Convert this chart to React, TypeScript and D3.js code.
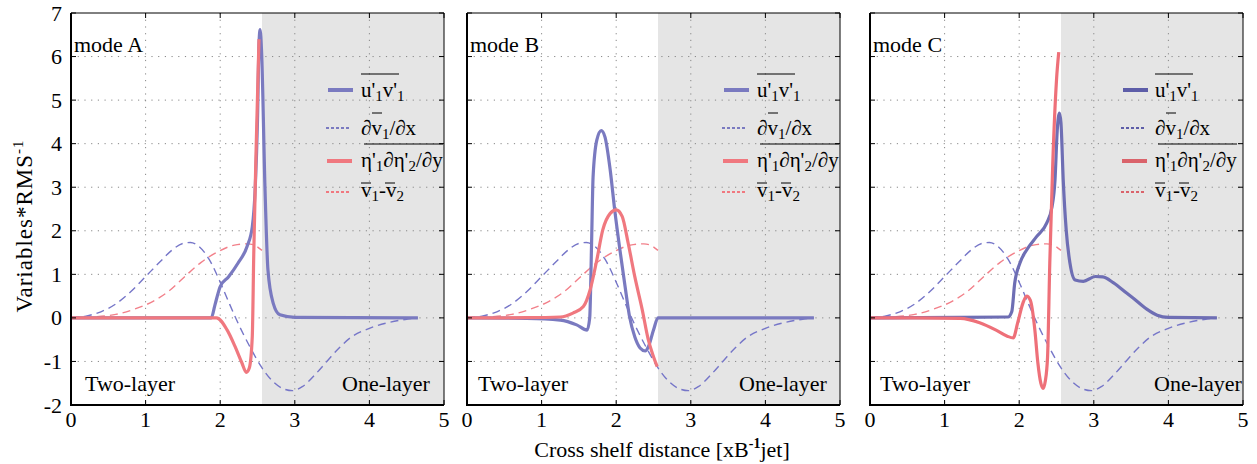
import React from "react";
import * as d3 from "d3";

type Pt = [number, number];

// Shared background profiles (same in every mode)
const dvdxCurve: Pt[] = [
  [0, 0], [0.2, 0.04], [0.4, 0.14], [0.6, 0.32], [0.8, 0.6], [1.0, 0.95], [1.2, 1.3],
  [1.35, 1.55], [1.5, 1.71], [1.6, 1.73], [1.7, 1.66], [1.85, 1.35], [2.0, 0.82],
  [2.1, 0.42], [2.22, -0.05], [2.4, -0.67], [2.55, -1.12], [2.7, -1.45], [2.85, -1.63],
  [2.97, -1.67], [3.1, -1.58], [3.3, -1.25], [3.45, -0.96], [3.6, -0.68], [3.75, -0.45],
  [4.0, -0.24], [4.25, -0.11], [4.5, -0.03], [4.65, 0],
];
const shearCurve: Pt[] = [
  [0, 0], [0.3, 0.02], [0.6, 0.08], [0.85, 0.2], [1.1, 0.38], [1.3, 0.6], [1.52, 0.94],
  [1.74, 1.27], [1.97, 1.52], [2.19, 1.67], [2.37, 1.7], [2.47, 1.66], [2.56, 1.55],
];

// Reynolds stress u'1v'1 per mode
const uvModeA: Pt[] = [
  [0, 0], [1.0, 0], [1.88, 0], [1.93, 0.3], [2.0, 0.72], [2.11, 0.94], [2.24, 1.26],
  [2.36, 1.64], [2.43, 2.09], [2.47, 3.0], [2.5, 4.54], [2.52, 6.3], [2.535, 6.62],
  [2.555, 6.1], [2.6, 3.0], [2.64, 1.1], [2.71, 0.34], [2.8, 0.07], [3.0, 0.01], [4.65, 0],
];
const uvModeB: Pt[] = [
  [0, 0], [0.8, -0.01], [1.25, -0.05], [1.47, -0.16], [1.61, -0.28], [1.645, 0],
  [1.67, 1.72], [1.69, 3.23], [1.74, 4.08], [1.8, 4.3], [1.85, 4.15], [1.92, 3.39],
  [1.98, 2.48], [2.05, 1.56], [2.12, 0.71], [2.18, 0.02], [2.25, -0.44], [2.32, -0.69],
  [2.39, -0.76], [2.43, -0.67], [2.5, -0.28], [2.56, 0], [4.65, 0],
];
const uvModeC: Pt[] = [
  [0, 0], [1.2, 0.01], [1.85, 0.02], [1.9, 0.14], [1.94, 0.8], [2.01, 1.26], [2.1, 1.56],
  [2.23, 1.86], [2.37, 2.18], [2.44, 2.55], [2.48, 3.17], [2.51, 4.31], [2.54, 4.7],
  [2.56, 4.47], [2.59, 3.17], [2.63, 2.02], [2.68, 1.26], [2.75, 0.87], [2.86, 0.84],
  [3.02, 0.95], [3.12, 0.94], [3.26, 0.81], [3.44, 0.57], [3.53, 0.45], [3.71, 0.2],
  [3.85, 0.06], [4.0, 0.01], [4.65, 0],
];

// Interfacial form stress eta'1 d(eta'2)/dy per mode
const etaModeA: Pt[] = [
  [0, 0], [1.0, 0], [1.95, 0], [2.09, -0.27], [2.2, -0.66], [2.29, -1.03], [2.35, -1.25],
  [2.39, -1.15], [2.43, -0.43], [2.45, 1.48], [2.48, 3.78], [2.52, 6.4],
];
const etaModeB: Pt[] = [
  [0, 0], [0.8, 0.005], [1.25, 0.02], [1.42, 0.11], [1.56, 0.26], [1.65, 0.64],
  [1.74, 1.33], [1.82, 2.02], [1.92, 2.4], [2.0, 2.48], [2.08, 2.33], [2.16, 1.72],
  [2.25, 0.94], [2.35, 0.18], [2.43, -0.5], [2.5, -0.89], [2.55, -1.12],
];
const etaModeC: Pt[] = [
  [0, 0], [0.6, 0], [1.21, -0.01], [1.47, -0.11], [1.69, -0.28], [1.84, -0.42],
  [1.92, -0.46], [1.98, -0.11], [2.05, 0.34], [2.1, 0.5], [2.15, 0.4], [2.21, -0.28],
  [2.25, -1.03], [2.29, -1.5], [2.32, -1.62], [2.35, -1.45], [2.38, -0.9], [2.41, 1.26],
  [2.45, 3.55], [2.5, 5.46], [2.53, 6.1],
];

const modeNames = ["mode A", "mode B", "mode C"];
const xTicks = [0, 1, 2, 3, 4, 5];
const yTicks = [-2, -1, 0, 1, 2, 3, 4, 5, 6, 7];
const oneLayerStart = 2.56;

const FONT = "'Liberation Serif', 'Times New Roman', serif";
const W = 1257;
const H = 464;
const TOP = 13;
const BOTTOM = 405;
const PW = 373;
const panelLeft = [71, 467, 870];

const panels = [
  { name: modeNames[0], uv: uvModeA, eta: etaModeA, blue: "#7a7ac0", red: "#f0787f",
    legBlue: "#7a7ac0", legRed: "#f0787f", sampleX: 256, textX: 290, twoX: 14, oneX: 271 },
  { name: modeNames[1], uv: uvModeB, eta: etaModeB, blue: "#7a7ac0", red: "#f0787f",
    legBlue: "#7a7ac0", legRed: "#f0787f", sampleX: 256, textX: 290, twoX: 11, oneX: 272 },
  { name: modeNames[2], uv: uvModeC, eta: etaModeC, blue: "#6e6eb4", red: "#ee7079",
    legBlue: "#5d5da8", legRed: "#da636b", sampleX: 252, textX: 285, twoX: 10, oneX: 284 },
];

const y = d3.scaleLinear().domain([-2, 7]).range([BOTTOM, TOP]);

function Panel({ p, x0, first }: { p: (typeof panels)[number]; x0: number; first: boolean }) {
  const x = d3.scaleLinear().domain([0, 5]).range([x0, x0 + PW]);
  const line = d3
    .line<Pt>()
    .x((d) => x(d[0]))
    .y((d) => y(d[1]))
    .curve(d3.curveMonotoneX);
  const lx = x0 + p.textX;
  const sx = x0 + p.sampleX;
  const rows = [90, 128, 161, 192];
  return (
    <g>
      <rect x={x(oneLayerStart)} y={TOP} width={x(5) - x(oneLayerStart)} height={BOTTOM - TOP} fill="#e5e5e5" />
      {/* dotted grid */}
      {xTicks.slice(1, -1).map((t) => (
        <line key={"gx" + t} x1={x(t)} x2={x(t)} y1={TOP} y2={BOTTOM} stroke="#888" strokeWidth={1} strokeDasharray="1.2,5.5" />
      ))}
      {yTicks.slice(1, -1).map((t) => (
        <line key={"gy" + t} x1={x0} x2={x0 + PW} y1={y(t)} y2={y(t)} stroke="#888" strokeWidth={1} strokeDasharray="1.2,5.5" />
      ))}
      {/* curves */}
      <path d={line(dvdxCurve) || ""} fill="none" stroke="#7676c8" strokeWidth={1.4} strokeDasharray="8,5" />
      <path d={line(shearCurve) || ""} fill="none" stroke="#f2808a" strokeWidth={1.4} strokeDasharray="8,5" />
      <path d={line(p.uv) || ""} fill="none" stroke={p.blue} strokeWidth={3.2} strokeLinejoin="round" />
      <path d={line(p.eta) || ""} fill="none" stroke={p.red} strokeWidth={3.2} strokeLinejoin="round" />
      {/* frame and inward ticks */}
      <line x1={x0} x2={x0 + PW} y1={TOP} y2={TOP} stroke="#000" strokeWidth={1} />
      <line x1={x0 + PW} x2={x0 + PW} y1={TOP} y2={BOTTOM} stroke="#000" strokeWidth={1} />
      <line x1={x0} x2={x0} y1={TOP} y2={BOTTOM + 1} stroke="#000" strokeWidth={2} />
      <line x1={x0 - 1} x2={x0 + PW} y1={BOTTOM} y2={BOTTOM} stroke="#000" strokeWidth={2} />
      {xTicks.map((t) => (
        <g key={"tx" + t}>
          <line x1={x(t)} x2={x(t)} y1={BOTTOM} y2={BOTTOM - 5} stroke="#000" />
          <line x1={x(t)} x2={x(t)} y1={TOP} y2={TOP + 5} stroke="#000" />
          <text x={x(t)} y={427} textAnchor="middle" fontFamily={FONT} fontSize={22}>{t}</text>
        </g>
      ))}
      {yTicks.map((t) => (
        <g key={"ty" + t}>
          <line x1={x0} x2={x0 + 5} y1={y(t)} y2={y(t)} stroke="#000" />
          <line x1={x0 + PW} x2={x0 + PW - 5} y1={y(t)} y2={y(t)} stroke="#000" />
          {first && (
            <text x={x0 - 9} y={y(t) + 7.5} textAnchor="end" fontFamily={FONT} fontSize={22}>{t}</text>
          )}
        </g>
      ))}
      {/* annotations */}
      <text x={x0 + 3} y={52} fontFamily={FONT} fontSize={22}>{p.name}</text>
      <text x={x0 + p.twoX} y={391} fontFamily={FONT} fontSize={22}>Two-layer</text>
      <text x={x0 + p.oneX} y={391} fontFamily={FONT} fontSize={22}>One-layer</text>
      {/* legend */}
      <g fontFamily={FONT} fontSize={21}>
        <line x1={sx + 1} x2={sx + 26} y1={rows[0]} y2={rows[0]} stroke={p.legBlue} strokeWidth={4} />
        <text x={lx} y={rows[0] + 7}>
          u'<tspan fontSize={15} dy={4}>1</tspan><tspan dy={-4}>v'</tspan><tspan fontSize={15} dy={4}>1</tspan>
        </text>
        <line x1={lx} x2={lx + 38} y1={rows[0] - 16} y2={rows[0] - 16} stroke="#000" strokeWidth={1} />

        <line x1={sx - 1} x2={sx + 24} y1={rows[1]} y2={rows[1]} stroke={p.legBlue} strokeWidth={2} strokeDasharray="3,2" />
        <text x={lx} y={rows[1] + 7}>
          ∂v<tspan fontSize={15} dy={4}>1</tspan><tspan dy={-4}>/∂x</tspan>
        </text>
        <line x1={lx + 11} x2={lx + 21} y1={rows[1] - 15} y2={rows[1] - 15} stroke="#000" strokeWidth={1} />

        <line x1={sx} x2={sx + 25} y1={rows[2]} y2={rows[2]} stroke={p.legRed} strokeWidth={4} />
        <text x={lx}y={rows[2] + 6}>
          η'<tspan fontSize={15} dy={4}>1</tspan><tspan dy={-4}>∂η'</tspan><tspan fontSize={15} dy={4}>2</tspan><tspan dy={-4}>/∂y</tspan>
        </text>
        <line x1={lx + 3} x2={lx + 82} y1={rows[2] - 17} y2={rows[2] - 17} stroke="#000" strokeWidth={1} />

        <line x1={sx - 1} x2={sx + 24} y1={rows[3]} y2={rows[3]} stroke={p.legRed} strokeWidth={2} strokeDasharray="3,2" />
        <text x={lx} y={rows[3] + 5}>
          v<tspan fontSize={15} dy={4}>1</tspan><tspan dy={-4}>-v</tspan><tspan fontSize={15} dy={4}>2</tspan>
        </text>
        <line x1={lx} x2={lx + 10} y1={rows[3] - 9} y2={rows[3] - 9} stroke="#000" strokeWidth={1} />
        <line x1={lx + 24} x2={lx + 34} y1={rows[3] - 9} y2={rows[3] - 9} stroke="#000" strokeWidth={1} />
      </g>
    </g>
  );
}

export default function App() {
  return (
    <svg width={W} height={H} style={{ position: "absolute", left: 0, top: 0, background: "#fff" }}>
      <rect x={0} y={0} width={W} height={H} fill="#fff" />
      {panels.map((p, i) => (
        <Panel key={p.name} p={p} x0={panelLeft[i]} first={i === 0} />
      ))}
      <text transform="translate(32,226) rotate(-90)" textAnchor="middle" fontFamily={FONT} fontSize={23} letterSpacing={1}>
        Variables*RMS<tspan fontSize={15} dy={-9}>-1</tspan>
      </text>
      <text x={662} y={457} textAnchor="middle" fontFamily={FONT} fontSize={22}>
        Cross shelf distance [xB<tspan fontSize={14} dy={-9} fontWeight="bold">-1</tspan><tspan dy={9}>jet]</tspan>
      </text>
    </svg>
  );
}
